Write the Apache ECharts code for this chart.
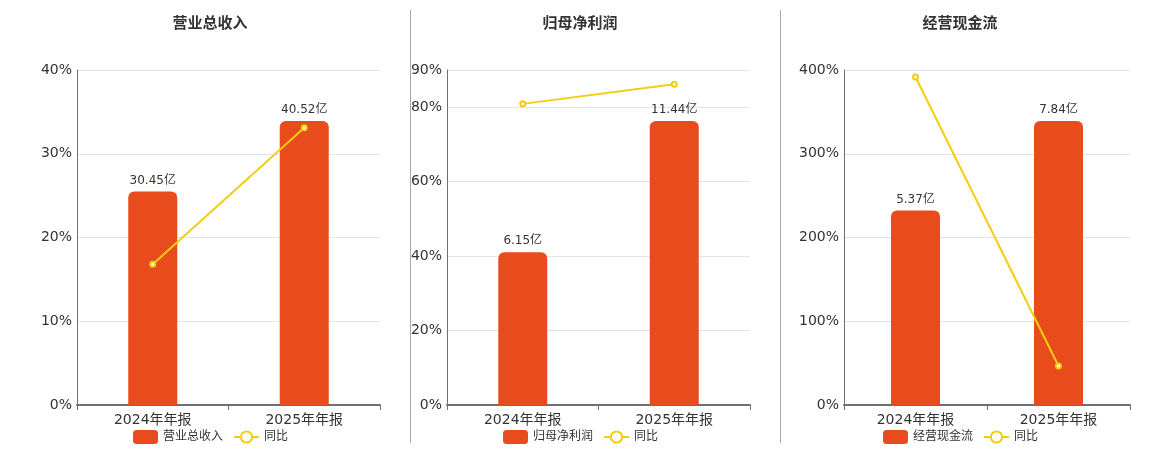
<!DOCTYPE html>
<html>
<head>
    <meta charset="utf-8">
    <title>财务指标</title>
    <script src="https://cdn.jsdelivr.net/npm/echarts@6/dist/echarts.min.js"></script>
    <style>
        body { margin: 0; background: #fff; }
        #main { width: 1160px; height: 450px; }
    </style>
</head>
<body>
    <div id="main"></div>

    <script type="text/javascript">
        // data
        var periods = ['2024年年报', '2025年年报'];
        var panelTitles = ['营业总收入', '归母净利润', '经营现金流'];
        var revenue = [30.45, 40.52];      // 亿
        var netProfit = [6.15, 11.44];     // 亿
        var cashFlow = [5.37, 7.84];       // 亿
        var revenueYoy = [16.8, 33.1];     // %
        var netProfitYoy = [80.9, 86.2];   // %
        var cashFlowYoy = [391.6, 46.6];   // %
        var pctMax = [40, 90, 400];
        var pctStep = [10, 20, 100];

        var font = 'DejaVu Sans, Noto Sans CJK SC, sans-serif';
        var barColor = '#E84C1D';
        var lineColor = '#F4CD10';

        var bars = [revenue, netProfit, cashFlow];
        var yoys = [revenueYoy, netProfitYoy, cashFlowYoy];
        var grids = [
            { left: 77, right: 780, top: 70, bottom: 45 },
            { left: 447, right: 410, top: 70, bottom: 45 },
            { left: 844, right: 30, top: 70, bottom: 45 }
        ];
        var centers = [205, 575, 955];

        var option = {
            animation: false,
            textStyle: { fontFamily: font },
            title: [], legend: [], grid: grids,
            xAxis: [], yAxis: [], series: [],
            graphic: [
                { type: 'line', shape: { x1: 410.5, y1: 10, x2: 410.5, y2: 443 }, style: { stroke: '#A9A9A4', lineWidth: 1 } },
                { type: 'line', shape: { x1: 780.5, y1: 10, x2: 780.5, y2: 443 }, style: { stroke: '#A9A9A4', lineWidth: 1 } }
            ]
        };

        for (var i = 0; i < 3; i++) {
            option.title.push({
                text: panelTitles[i],
                left: centers[i], top: 12,
                textAlign: 'center',
                textStyle: { fontSize: 15, fontWeight: 'bold', color: '#333', fontFamily: font }
            });
            option.legend.push({
                data: [panelTitles[i], '同比'],
                left: centers[i] - 77, top: 425,
                itemWidth: 25, itemHeight: 14, itemGap: 10,
                textStyle: { fontSize: 12, color: '#333', fontFamily: font }
            });

            option.xAxis.push({
                type: 'category', gridIndex: i, data: periods,
                axisLine: { lineStyle: { color: '#6E7079', width: 2 } },
                axisTick: { show: true, lineStyle: { color: '#6E7079' } },
                axisLabel: { fontSize: 14, color: '#333', margin: 8, fontFamily: font }
            });
            option.yAxis.push({
                type: 'value', gridIndex: i, min: 0, max: pctMax[i], interval: pctStep[i],
                axisLine: { show: true, lineStyle: { color: '#6E7079' } },
                axisTick: { show: false },
                axisLabel: { formatter: '{value}%', fontSize: 14, color: '#333', margin: 5, fontFamily: font },
                splitLine: { lineStyle: { color: '#E0E6F1' } }
            });
            option.yAxis.push({
                type: 'value', gridIndex: i, min: 0,
                max: Math.max.apply(null, bars[i]) / 0.848,
                show: false, splitLine: { show: false }
            });
            option.series.push({
                name: panelTitles[i], type: 'bar',
                xAxisIndex: i, yAxisIndex: i * 2 + 1,
                data: bars[i], barWidth: 49,
                itemStyle: { color: barColor, borderRadius: [6, 6, 0, 0] },
                label: {
                    show: true, position: 'top', distance: 5,
                    formatter: function (p) { return p.value.toFixed(2) + '亿'; },
                    fontSize: 12, color: '#333', fontFamily: font
                }
            });
            option.series.push({
                name: '同比', type: 'line',
                xAxisIndex: i, yAxisIndex: i * 2,
                data: yoys[i],
                symbol: 'emptyCircle', symbolSize: 5,
                lineStyle: { color: lineColor, width: 2 },
                itemStyle: { color: lineColor }
            });
        }

        var myChart = echarts.init(document.getElementById('main'));
        myChart.setOption(option);
    </script>
</body>
</html>
